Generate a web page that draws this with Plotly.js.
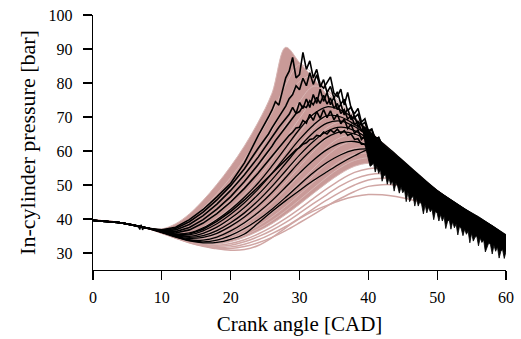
<!DOCTYPE html>
<html>
<head>
<meta charset="utf-8">
<script src="https://cdn.plot.ly/plotly-3.0.1.min.js"></script>
<style>html,body{margin:0;padding:0;background:#fff;}#chart{width:521px;height:339px;}</style>
</head>
<body>
<div id="chart"></div>
<script>
// Crank angle grid for the smooth cycles [CAD]
const crankAngle = [0,4,8,10,12,14,16,18,20,22,24,26,28,30,32,34,36,38,40,42,44,47,50,55,60];

// Individual cycles (pink), pressure in bar
const pinkCycle01 = [39.6,38.9,37.4,37.1,38.6,41.5,45.5,50.2,55.5,61.5,68.5,77.0,90.5,86.0,81.5,76.5,72.5,69.0,65.5,62.0,58.5,53.5,48.5,41.5,35.0];
const pinkCycle02 = [39.6,38.9,37.3,36.6,37.5,39.8,43.2,47.4,52.2,57.6,64.0,71.2,79.5,85.5,82.5,77.5,73.0,69.2,65.6,62.0,58.4,53.3,48.3,41.3,34.9];
const pinkCycle03 = [39.6,38.9,37.3,36.4,36.6,38.3,41.2,44.8,49.0,53.8,59.5,66.0,73.4,80.5,82.0,78.0,73.5,69.5,65.8,62.2,58.6,53.4,48.3,41.3,34.8];
const pinkCycle04 = [39.6,38.9,37.3,36.3,35.9,36.9,39.0,42.0,45.6,49.9,55.0,61.0,67.8,74.5,79.0,78.0,74.0,70.0,66.2,62.5,58.9,53.6,48.4,41.3,34.8];
const pinkCycle05 = [39.6,38.9,37.3,36.2,35.5,35.9,37.6,40.2,43.4,47.3,52.0,57.4,63.6,69.6,74.8,76.2,73.6,70.0,66.3,62.6,59.0,53.6,48.4,41.2,34.7];
const pinkCycle06 = [39.6,38.9,37.3,36.2,35.2,35.2,36.4,38.6,41.5,45.0,49.2,54.2,59.8,65.4,70.4,73.2,72.6,69.6,66.2,62.6,59.0,53.6,48.3,41.2,34.7];
const pinkCycle07 = [39.6,38.9,37.3,36.2,35.1,34.6,35.4,37.2,39.8,43.0,46.8,51.3,56.5,61.8,66.6,70.2,70.6,68.6,65.6,62.2,58.8,53.4,48.2,41.1,34.6];
const pinkCycle08 = [39.6,38.9,37.3,36.2,35.0,34.3,34.7,36.1,38.3,41.1,44.6,48.7,53.4,58.4,63.0,66.8,68.6,67.6,65.0,61.8,58.5,53.2,48.0,41.0,34.5];
const pinkCycle09 = [39.6,38.9,37.3,36.2,35.0,34.1,34.2,35.3,37.2,39.7,42.8,46.5,50.8,55.4,59.8,63.8,66.2,66.2,64.2,61.3,58.1,53.0,47.9,40.9,34.4];
const pinkCycle10 = [39.6,38.9,37.3,36.1,34.9,33.9,33.8,34.7,36.3,38.5,41.3,44.6,48.6,52.9,57.2,61.2,64.0,64.6,63.2,60.6,57.6,52.7,47.7,40.8,34.3];
const pinkCycle11 = [39.6,38.9,37.3,36.1,34.9,33.8,33.5,34.1,35.5,37.5,40.0,43.1,46.8,50.8,54.8,58.6,61.6,62.8,62.0,59.8,57.0,52.4,47.5,40.7,34.2];
const pinkCycle12 = [39.6,38.9,37.2,36.1,34.8,33.7,33.3,33.7,34.9,36.7,39.0,41.8,45.2,48.9,52.7,56.3,59.2,60.8,60.6,59.0,56.4,52.0,47.2,40.5,34.1];
const pinkCycle13 = [39.6,38.9,37.2,36.0,34.7,33.6,33.1,33.3,34.3,35.9,38.0,40.6,43.7,47.2,50.8,54.2,57.1,59.0,59.3,58.2,56.0,51.8,47.0,40.4,34.0];
const pinkCycle14 = [39.6,38.9,37.2,36.0,34.7,33.5,32.9,33.0,33.8,35.2,37.1,39.5,42.4,45.6,49.0,52.3,55.2,57.2,58.0,57.4,55.6,51.6,46.8,40.3,34.0];
const pinkCycle15 = [39.6,38.9,37.2,36.0,34.6,33.4,32.7,32.6,33.3,34.6,36.4,38.6,41.3,44.3,47.5,50.6,53.4,55.5,56.4,56.2,55.0,51.3,46.6,40.2,33.9];
const pinkCycle16 = [39.6,38.9,37.2,36.0,34.6,33.3,32.5,32.3,32.8,33.9,35.6,37.7,40.2,43.0,46.0,48.9,51.6,53.7,54.8,54.9,54.0,50.8,46.3,40.0,33.8];
const pinkCycle17 = [39.6,38.9,37.2,35.9,34.5,33.2,32.3,32.0,32.3,33.3,34.8,36.7,39.0,41.7,44.5,47.2,49.8,51.8,53.0,53.4,52.9,50.2,46.0,39.8,33.7];
const pinkCycle18 = [39.6,38.9,37.2,35.9,34.5,33.1,32.1,31.6,31.8,32.6,33.9,35.7,37.8,40.3,43.0,45.6,48.0,50.0,51.5,52.0,51.8,49.6,45.6,39.6,33.6];
const pinkCycle19 = [39.6,38.9,37.2,35.9,34.4,33.0,32.0,31.3,31.3,31.9,33.0,34.6,36.6,38.9,41.3,43.8,46.1,48.1,49.6,50.1,50.0,48.6,45.2,39.4,33.5];
const pinkCycle20 = [39.6,38.9,37.2,36.0,34.6,33.3,32.2,31.3,30.8,31.0,32.2,34.5,37.4,40.1,42.3,44.0,45.5,46.6,47.2,47.1,46.6,45.3,43.5,39.0,33.4];

// Highlighted cycles (black), smooth ones on crankAngle grid
const blackCycle1 = [39.6,38.9,37.3,36.3,35.6,35.9,37.4,39.8,42.8,46.4,50.6,55.6,61.0,66.4,70.8,73.0,72.0,69.4,66.0,62.4,59.0,53.6,48.4,41.3,34.7];
const blackCycle2 = [39.6,38.9,37.3,36.2,35.2,34.9,35.8,37.6,40.2,43.4,47.2,51.6,56.4,61.2,65.4,68.2,68.8,67.2,64.4,61.3,58.2,53.1,48.0,41.0,34.5];
const blackCycle3 = [39.6,38.9,37.3,36.2,35.0,34.3,34.6,35.8,37.9,40.6,43.9,47.8,52.2,56.8,60.8,64.0,65.6,65.0,63.0,60.4,57.6,52.8,47.7,40.8,34.4];
const blackCycle4 = [39.6,38.9,37.3,36.1,34.9,33.9,33.8,34.7,36.5,38.9,41.9,45.4,49.4,53.5,57.3,60.4,62.4,62.8,61.6,59.5,57.0,52.4,47.5,40.7,34.3];
const blackCycle5 = [39.6,38.9,37.3,36.1,34.8,33.7,33.3,33.8,35.2,37.2,39.8,42.9,46.4,50.1,53.6,56.6,58.9,60.3,60.6,59.6,57.4,52.5,47.5,40.6,34.2];
const blackCycle6 = [39.6,38.9,37.2,36.0,34.7,33.6,33.0,33.1,34.0,35.6,38.8,42.2,45.4,48.4,51.3,53.9,56.4,58.6,60.4,60.6,58.6,53.0,47.6,40.6,34.2];
const blackCycle7 = [39.6,38.9,37.3,36.2,35.1,34.6,35.1,36.6,38.9,41.8,45.4,49.6,54.2,58.8,62.8,65.8,67.0,66.0,63.6,60.8,57.9,53.0,47.8,40.9,34.5];
const blackCycle8 = [39.6,38.9,37.3,36.2,35.3,35.3,36.5,38.6,41.4,44.8,48.8,53.4,58.4,63.4,67.6,70.4,70.0,67.8,64.8,61.6,58.4,53.2,48.1,41.0,34.6];

// Knocking cycles (black, oscillating) on a finer grid
const knockAngle = [0,4,8,10,12,14,16,18,20,22,24,25,25.5,26,26.5,27,27.5,28,28.5,29,29.5,30,30.5,31,31.5,32,32.5,33,33.5,34,34.5,35,35.5,36,36.5,37,37.5,38,38.5,39,39.5,40,40.5,41,41.5,42,44,46,48,50,52,55,58,60];
const knockCycle1 = [39.6,38.9,37.3,36.8,37.6,39.8,42.8,46.5,50.5,56.5,64.5,68.0,70.0,72.0,74.5,73.5,77.5,81.5,83.5,87.5,81.5,82.5,89.0,84.0,86.5,81.5,84.0,79.5,78.5,80.0,81.8,77.0,76.0,78.2,73.5,77.2,72.5,71.0,72.5,68.5,69.5,66.0,66.5,63.5,64.0,61.5,58.0,54.5,51.0,48.0,45.3,41.5,37.8,35.0];
const knockCycle2 = [39.6,38.9,37.3,36.5,36.8,38.4,41.0,44.4,48.4,53.0,58.2,61.0,62.5,64.0,65.5,67.0,68.3,69.8,70.8,72.8,71.0,74.3,72.5,75.3,72.8,76.6,74.0,78.2,74.6,77.2,73.6,75.8,72.2,73.8,70.6,72.4,69.2,70.4,67.2,68.2,65.2,66.2,63.2,64.0,61.3,61.5,57.5,54.0,50.5,47.5,44.8,41.0,37.3,34.6];
const knockCycle3 = [39.6,38.9,37.3,36.3,35.9,36.8,38.8,41.6,45.0,49.0,53.5,56.0,57.2,58.5,59.8,61.0,62.3,63.4,64.6,65.5,66.8,67.0,69.0,68.2,70.8,69.0,71.6,69.6,72.2,69.8,71.8,69.2,70.8,68.0,69.4,66.6,67.8,65.2,66.2,63.4,64.4,61.8,62.6,60.0,60.6,58.8,56.0,52.6,49.5,46.6,44.0,40.3,36.8,34.2];
const knockCycle4 = [39.6,38.9,37.3,36.2,35.4,35.6,37.0,39.3,42.2,45.6,49.4,51.4,52.4,53.4,54.5,55.5,56.6,57.5,58.6,59.4,60.4,61.0,62.0,62.4,63.4,63.6,64.6,64.4,65.6,65.0,66.2,65.4,66.4,65.2,66.0,64.6,65.0,63.4,63.6,62.0,62.0,60.4,60.0,58.8,58.0,57.0,54.2,51.2,48.4,45.6,43.0,39.6,36.2,33.6];
const knockCycle5 = [39.6,38.9,37.3,36.6,37.2,39.2,42.0,45.6,49.8,54.8,60.8,63.5,65.0,66.8,68.4,70.0,71.8,73.2,75.4,76.6,79.2,78.0,81.4,79.2,83.0,79.6,82.4,78.8,81.0,77.2,79.0,75.6,77.4,73.8,75.2,71.8,73.0,69.8,70.8,67.6,68.4,65.6,66.2,63.6,64.0,61.8,58.2,54.6,51.2,48.2,45.5,41.6,37.9,35.1];
const knockCycle6 = [39.6,38.9,37.3,36.4,36.3,37.5,39.8,42.9,46.6,51.0,56.0,58.6,60.0,61.4,63.0,64.3,65.8,67.0,68.5,69.6,71.0,71.6,73.2,72.8,74.8,73.6,75.8,74.0,76.4,73.8,75.6,72.6,74.0,71.0,72.2,69.4,70.4,67.8,68.6,66.0,66.8,64.4,65.0,62.6,63.0,60.8,57.2,53.8,50.4,47.4,44.7,40.9,37.2,34.5];

// Short noisy stretch near 7 CAD
const blipAngle = [6.2,6.6,6.8,7.0,7.2,7.4,7.8];
const blipPressure = [37.9,37.7,36.9,38.3,36.8,37.6,37.3];

// Envelope of the oscillating expansion band (upper edge, then jagged lower edge)
const bandUpperAngle = [39,40,42,44,46,48,50,52,54,56,58,60];
const bandUpperPressure = [67.6,65.8,62.2,58.6,55.0,51.6,48.4,45.6,43.0,40.7,38.0,35.4];
const bandLowerAngle = [60,59.75,59.5,59.25,59,58.75,58.5,58.25,58,57.75,57.5,57.25,57,56.75,56.5,56.25,56,55.75,55.5,55.25,55,54.75,54.5,54.25,54,53.75,53.5,53.25,53,52.75,52.5,52.25,52,51.75,51.5,51.25,51,50.75,50.5,50.25,50,49.75,49.5,49.25,49,48.75,48.5,48.25,48,47.75,47.5,47.25,47,46.75,46.5,46.25,46,45.75,45.5,45.25,45,44.75,44.5,44.25,44,43.75,43.5,43.25,43,42.75,42.5,42.25,42,41.75,41.5,41.25,41,40.75,40.5,40.25,40,39.5];
const bandLowerPressure = [30.5,28.4,31.0,30.5,28.5,31.8,30.5,32.3,29.7,32.4,33.0,31.4,30.3,33.9,33.1,34.4,32.1,35.0,34.6,33.5,35.8,33.0,36.4,35.5,37.0,35.1,37.1,37.9,35.3,38.5,37.4,39.2,37.0,39.8,39.2,37.2,40.7,39.4,41.3,39.4,41.7,42.3,39.8,42.9,42.1,43.5,41.8,44.2,41.5,44.2,45.2,43.8,46.0,43.8,46.7,46.1,45.1,47.9,45.1,48.6,47.7,49.4,47.6,49.7,50.5,48.2,51.2,50.1,52.0,50.2,53.0,52.7,51.1,54.5,53.4,55.5,53.8,56.5,55.8,55.5,58.0,62.0];

const xTicks = [0,10,20,30,40,50,60];
const yTicks = [30,40,50,60,70,80,90,100];

const pinkCycles = [pinkCycle01,pinkCycle02,pinkCycle03,pinkCycle04,pinkCycle05,pinkCycle06,pinkCycle07,pinkCycle08,pinkCycle09,pinkCycle10,pinkCycle11,pinkCycle12,pinkCycle13,pinkCycle14,pinkCycle15,pinkCycle16,pinkCycle17,pinkCycle18,pinkCycle19,pinkCycle20];
const blackCycles = [blackCycle1,blackCycle2,blackCycle3,blackCycle4,blackCycle5,blackCycle6,blackCycle7,blackCycle8];
const knockCycles = [knockCycle1,knockCycle2,knockCycle3,knockCycle4,knockCycle5,knockCycle6];

const traces = [];
// dense pink area between earliest and mid cycles
traces.push({x: crankAngle, y: pinkCycle15, mode: 'lines', line: {width: 0, shape: 'spline'}, hoverinfo: 'skip', showlegend: false});
traces.push({x: crankAngle, y: pinkCycle01, mode: 'lines', line: {width: 0, shape: 'spline'}, fill: 'tonexty', fillcolor: 'rgb(201,154,152)', hoverinfo: 'skip', showlegend: false});
pinkCycles.forEach(function (c, i) {
  traces.push({x: crankAngle, y: c, mode: 'lines', line: {color: i < 15 ? 'rgb(216,182,180)' : 'rgb(208,166,164)', width: i < 15 ? 1 : 1.5, shape: 'spline'}, showlegend: false});
});
blackCycles.forEach(function (c) {
  traces.push({x: crankAngle, y: c, mode: 'lines', line: {color: '#000', width: 1.3, shape: 'spline'}, showlegend: false});
});
knockCycles.forEach(function (c) {
  traces.push({x: knockAngle, y: c, mode: 'lines', line: {color: '#000', width: 1.6}, showlegend: false});
});
traces.push({x: blipAngle, y: blipPressure, mode: 'lines', line: {color: '#000', width: 1.3}, showlegend: false});
traces.push({x: bandUpperAngle.concat(bandLowerAngle), y: bandUpperPressure.concat(bandLowerPressure), mode: 'lines', fill: 'toself', fillcolor: '#000', line: {color: '#000', width: 0.8}, showlegend: false});

const serif = '"Liberation Serif", "Times New Roman", Times, serif';
const layout = {
  width: 521, height: 339,
  margin: {l: 93, r: 15, t: 15, b: 69},
  paper_bgcolor: '#fff', plot_bgcolor: '#fff',
  showlegend: false,
  font: {family: serif, color: '#000', size: 16},
  xaxis: {
    range: [0, 60], tickvals: xTicks, ticktext: xTicks.map(String),
    ticks: 'outside', ticklen: 9, tickwidth: 1.2, tickcolor: '#000',
    showline: true, linecolor: '#000', linewidth: 1.2,
    showgrid: false, zeroline: false,
    ticklabelposition: 'outside', ticklabelstandoff: 4,
    tickfont: {family: serif, size: 16, color: '#000'},
    title: {text: 'Crank angle [CAD]', font: {family: serif, size: 21, color: '#000'}, standoff: 10}
  },
  yaxis: {
    range: [25, 100], tickvals: yTicks, ticktext: yTicks.map(String),
    ticks: 'outside', ticklen: 9, tickwidth: 1.2, tickcolor: '#000',
    showline: true, linecolor: '#000', linewidth: 1.2,
    showgrid: false, zeroline: false,
    ticklabelposition: 'outside', ticklabelstandoff: 7,
    tickfont: {family: serif, size: 16, color: '#000'},
    title: {text: 'In-cylinder pressure [bar]', font: {family: serif, size: 22, color: '#000'}, standoff: 6}
  }
};
Plotly.newPlot('chart', traces, layout, {staticPlot: true, displayModeBar: false});
</script>
</body>
</html>
